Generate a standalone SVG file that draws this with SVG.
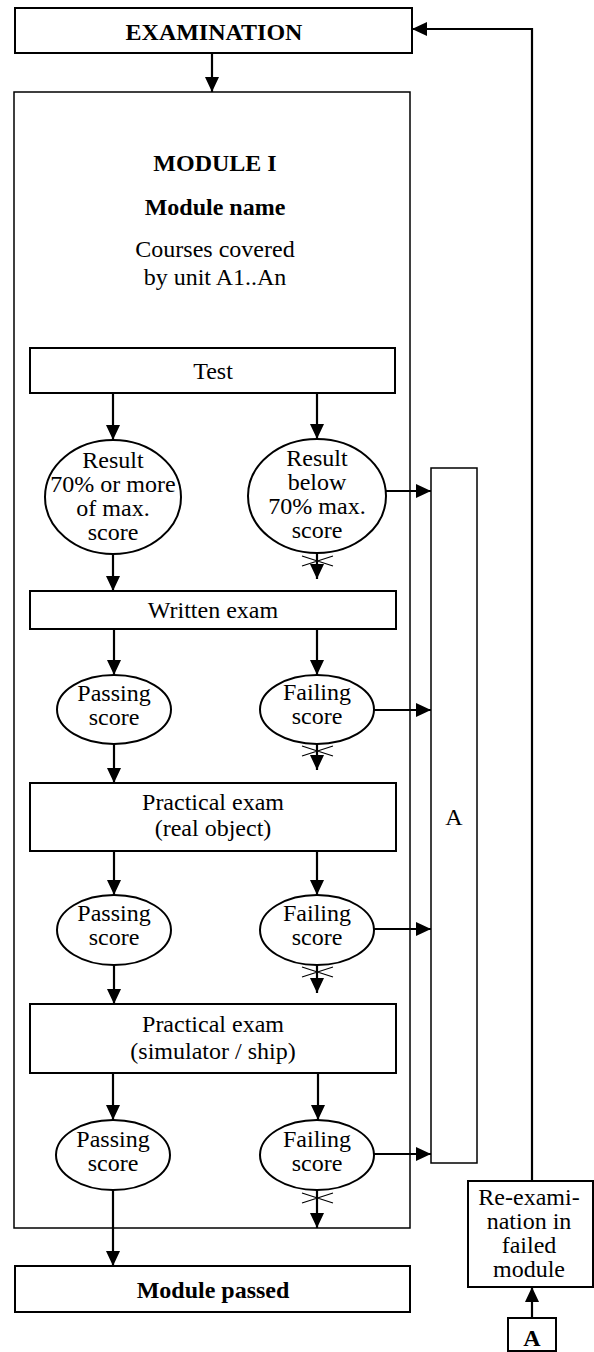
<svg xmlns="http://www.w3.org/2000/svg" width="594" height="1352" viewBox="0 0 594 1352">
<defs>
<marker id="ah" markerUnits="userSpaceOnUse" markerWidth="15" markerHeight="14" refX="15" refY="7" orient="auto">
<path d="M0,0 L15,7 L0,14 z" fill="#000"/>
</marker>
<style>
.box{fill:#fff;stroke:#000;stroke-width:2}
.thin{fill:#fff;stroke:#000;stroke-width:1.5}
.ell{fill:#fff;stroke:#000;stroke-width:2}
.ar{fill:none;stroke:#000;stroke-width:2.2;marker-end:url(#ah)}
.x{fill:none;stroke:#000;stroke-width:1.2}
text{font-family:"Liberation Serif","Times New Roman",serif;font-size:24px;fill:#000;text-anchor:middle}
.b{font-weight:bold}
</style>
</defs>
<rect width="594" height="1352" fill="#fff"/>

<g id="module">
<rect class="thin" x="14" y="92" width="396" height="1136"/>
<text class="b" x="215" y="171">MODULE I</text>
<text class="b" x="215" y="215">Module name</text>
<text x="215" y="257">Courses covered<tspan x="215" y="285">by unit A1..An</tspan></text>
</g>

<g id="examination">
<rect class="box" x="15" y="8" width="397" height="45"/>
<text class="b" x="214" y="40">EXAMINATION</text>
</g>

<g id="test">
<rect class="box" x="30" y="348" width="365" height="45"/>
<text x="213" y="379">Test</text>
</g>

<g id="result-pass">
<ellipse class="ell" cx="113" cy="497" rx="68" ry="57"/>
<text x="113" y="468">Result<tspan x="113" y="492">70% or more</tspan><tspan x="113" y="516">of max.</tspan><tspan x="113" y="540">score</tspan></text>
</g>

<g id="result-fail">
<ellipse class="ell" cx="317" cy="496" rx="69" ry="57"/>
<text x="317" y="466">Result<tspan x="317" y="490">below</tspan><tspan x="317" y="514">70% max.</tspan><tspan x="317" y="538">score</tspan></text>
</g>

<g id="written">
<rect class="box" x="30" y="591" width="366" height="38"/>
<text x="213" y="618">Written exam</text>
</g>

<g id="pass1">
<ellipse class="ell" cx="114" cy="709.5" rx="57" ry="34.5"/>
<text x="114" y="701">Passing<tspan x="114" y="725">score</tspan></text>
</g>
<g id="fail1">
<ellipse class="ell" cx="317" cy="709.5" rx="57" ry="34.5"/>
<text x="317" y="700">Failing<tspan x="317" y="724">score</tspan></text>
</g>

<g id="practical-real">
<rect class="box" x="30" y="783" width="366" height="68"/>
<text x="213" y="810">Practical exam<tspan x="213" y="836">(real object)</tspan></text>
</g>

<g id="pass2">
<ellipse class="ell" cx="114" cy="930" rx="57" ry="35"/>
<text x="114" y="921">Passing<tspan x="114" y="945">score</tspan></text>
</g>
<g id="fail2">
<ellipse class="ell" cx="317" cy="930" rx="57" ry="35"/>
<text x="317" y="921">Failing<tspan x="317" y="945">score</tspan></text>
</g>

<g id="practical-sim">
<rect class="box" x="30" y="1004" width="366" height="69"/>
<text x="213" y="1032">Practical exam<tspan x="213" y="1059">(simulator / ship)</tspan></text>
</g>

<g id="pass3">
<ellipse class="ell" cx="113" cy="1155" rx="57" ry="35"/>
<text x="113" y="1147">Passing<tspan x="113" y="1171">score</tspan></text>
</g>
<g id="fail3">
<ellipse class="ell" cx="317" cy="1155" rx="57" ry="35"/>
<text x="317" y="1147">Failing<tspan x="317" y="1171">score</tspan></text>
</g>

<g id="a-box">
<rect class="thin" x="431" y="468" width="46" height="695"/>
<text x="454" y="825">A</text>
</g>

<g id="module-passed">
<rect class="box" x="15" y="1266" width="395" height="46"/>
<text class="b" x="213" y="1298">Module passed</text>
</g>

<g id="reexam">
<rect class="box" x="468" y="1181" width="125" height="106"/>
<text x="529" y="1205">Re-exami-<tspan x="529" y="1229">nation in</tspan><tspan x="529" y="1253">failed</tspan><tspan x="529" y="1277">module</tspan></text>
</g>

<g id="a-small">
<rect class="box" x="508" y="1318" width="48" height="33"/>
<text class="b" x="532" y="1346">A</text>
</g>

<g id="connectors">
<line class="ar" x1="212" y1="53" x2="212" y2="92"/>
<line class="ar" x1="113" y1="393" x2="113" y2="440"/>
<line class="ar" x1="317" y1="393" x2="317" y2="439"/>
<line class="ar" x1="386" y1="491" x2="431" y2="491"/>
<line class="ar" x1="113" y1="554" x2="113" y2="591"/>
<line class="ar" x1="317" y1="553" x2="317" y2="579"/>
<path class="x" d="M302,556 L333,566 M302,566 L333,556"/>

<line class="ar" x1="114" y1="629" x2="114" y2="675"/>
<line class="ar" x1="317" y1="629" x2="317" y2="675"/>
<line class="ar" x1="374" y1="710" x2="431" y2="710"/>
<line class="ar" x1="114" y1="744" x2="114" y2="783"/>
<line class="ar" x1="317" y1="744" x2="317" y2="770"/>
<path class="x" d="M302,746 L333,756 M302,756 L333,746"/>

<line class="ar" x1="114" y1="851" x2="114" y2="895"/>
<line class="ar" x1="317" y1="851" x2="317" y2="895"/>
<line class="ar" x1="374" y1="929" x2="431" y2="929"/>
<line class="ar" x1="114" y1="965" x2="114" y2="1004"/>
<line class="ar" x1="317" y1="965" x2="317" y2="993"/>
<path class="x" d="M302,967 L333,977 M302,977 L333,967"/>

<line class="ar" x1="113" y1="1073" x2="113" y2="1120"/>
<line class="ar" x1="318" y1="1073" x2="318" y2="1120"/>
<line class="ar" x1="374" y1="1154" x2="431" y2="1154"/>
<line class="ar" x1="113" y1="1190" x2="113" y2="1266"/>
<line class="ar" x1="317" y1="1190" x2="317" y2="1228"/>
<path class="x" d="M302,1193 L333,1203 M302,1203 L333,1193"/>

<line class="ar" x1="532" y1="1318" x2="532" y2="1287"/>
<polyline class="ar" points="532,1181 532,29 412,29"/>
</g>
</svg>
